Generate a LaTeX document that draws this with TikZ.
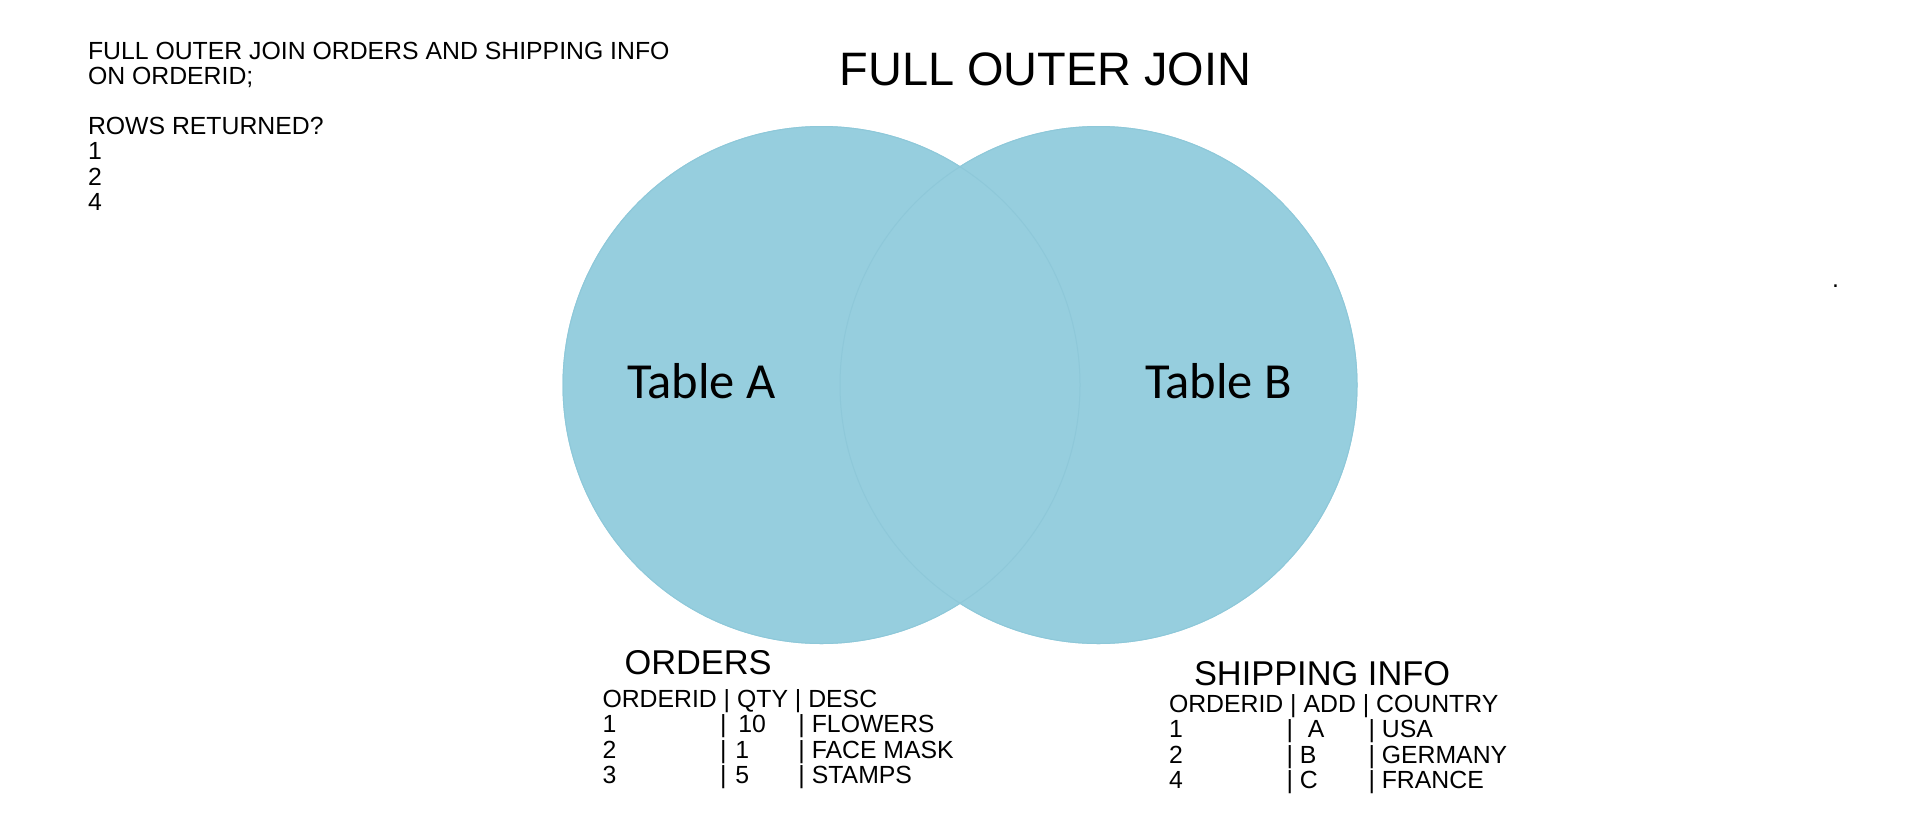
\documentclass[tikz,border=0pt]{standalone}
\usepackage{fontspec}
\setmainfont{Liberation Sans}
\newfontfamily\calib{Carlito}
\definecolor{venn}{RGB}{150,206,222}
\definecolor{vennline}{RGB}{142,200,217}
\begin{document}
\begin{tikzpicture}[x=1pt,y=-1pt,
  txt/.style={anchor=base west,inner sep=0pt,outer sep=0pt,font=\fontsize{24.8}{25.2}\selectfont},
  head/.style={anchor=base west,inner sep=0pt,outer sep=0pt,font=\fontsize{34.4}{36}\selectfont},
  tlabel/.style={anchor=base west,inner sep=0pt,outer sep=0pt,font=\calib\fontsize{50.5}{55}\selectfont},
  setc/.style={circle,fill=venn,minimum size=518pt,inner sep=0pt,outer sep=0pt}]
\useasboundingbox (0,0) rectangle (1920,831);
\fill[white] (0,0) rectangle (1920,831);
% Venn circles
\node[setc] (cA) at (821.5,385) {};
\node[setc] (cB) at (1098.5,385) {};
\draw[vennline,line width=1pt] (cA.center) circle[radius=258.5pt];
\draw[vennline,line width=1pt] (cB.center) circle[radius=258.5pt];
\node[tlabel] (la) at (627,398) {Table A};
\node[tlabel] (lb) at (1145,398) {Table B};
% title
\node[anchor=base,inner sep=0pt,font=\fontsize{46.9}{50}\selectfont] (title) at (1045.5,85) {FULL OUTER JOIN};
% question text
\node[txt] (q1) at (88,59) {FULL OUTER JOIN ORDERS AND SHIPPING INFO};
\node[txt] (q2) at (88,84.2) {ON ORDERID;};
\node[txt] (q3) at (88,134.6) {ROWS RETURNED?};
\node[txt] (q4) at (88,159.8) {1};
\node[txt] (q5) at (88,185) {2};
\node[txt] (q6) at (88,210.2) {4};
% orders table
\node[head] (oh) at (624.5,674) {ORDERS};
\node[txt] (o0) at (602.5,707.7) {ORDERID | QTY | DESC};
\node[txt] (o1) at (602.5,732.4) {\makebox[117.5pt][l]{1}\makebox[78.5pt][l]{|\hspace{12pt}10}| FLOWERS};
\node[txt] (o2) at (602.5,758.1) {\makebox[117.5pt][l]{2}\makebox[78.5pt][l]{|\hspace{9pt}1}| FACE MASK};
\node[txt] (o3) at (602.5,783.8) {\makebox[117.5pt][l]{3}\makebox[78.5pt][l]{|\hspace{9pt}5}| STAMPS};
% shipping table
\node[head] (sh) at (1194,685.5) {SHIPPING INFO};
\node[txt] (s0) at (1169,712.7) {ORDERID | ADD | COUNTRY};
\node[txt] (s1) at (1169,737.3) {\makebox[117.5pt][l]{1}\makebox[82pt][l]{|\hspace{15pt}A}| USA};
\node[txt] (s2) at (1169,763) {\makebox[117.5pt][l]{2}\makebox[82pt][l]{| B}| GERMANY};
\node[txt] (s3) at (1169,788.7) {\makebox[117.5pt][l]{4}\makebox[82pt][l]{| C}| FRANCE};
% stray dot
\node[txt] (dot) at (1832,287.5) {.};
\end{tikzpicture}
\end{document}
